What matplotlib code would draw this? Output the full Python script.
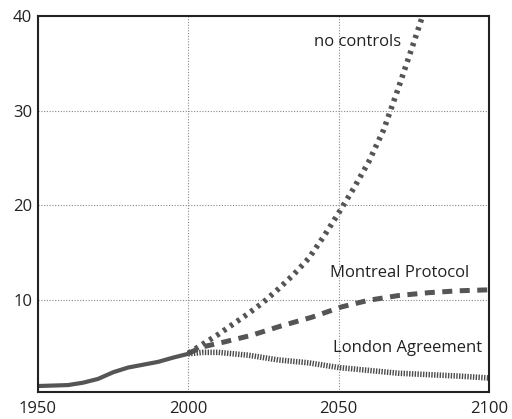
import matplotlib
matplotlib.use("Agg")
from matplotlib import pyplot as plt

# data
hist_years = [1950, 1960, 1965, 1970, 1975, 1980, 1985, 1990, 1995, 2000]
hist_vals = [0.95, 1.05, 1.3, 1.7, 2.4, 2.9, 3.2, 3.5, 3.95, 4.35]

nc_years = [2000, 2005, 2010, 2015, 2020, 2025, 2030, 2035, 2040, 2045, 2050,
            2055, 2060, 2065, 2070, 2075, 2080]
nc_vals = [4.4, 5.4, 6.4, 7.5, 8.6, 9.8, 11.2, 12.7, 14.4, 16.7, 19.2,
           21.8, 24.6, 28.0, 32.5, 37.2, 42.0]

mp_years = [2000, 2005, 2012, 2021, 2031, 2041, 2051, 2060, 2070, 2080, 2090, 2100]
mp_vals = [4.4, 5.1, 5.6, 6.3, 7.3, 8.2, 9.3, 10.0, 10.5, 10.8, 11.0, 11.1]

la_years = [2000, 2005, 2010, 2020, 2030, 2040, 2050, 2060, 2070, 2080, 2090, 2100]
la_vals = [4.35, 4.5, 4.5, 4.2, 3.7, 3.4, 2.9, 2.6, 2.3, 2.15, 2.0, 1.8]

x_ticks = [1950, 2000, 2050, 2100]
y_ticks = [10, 20, 30, 40]

plt.rcParams['font.family'] = ['Open Sans', 'DejaVu Sans']

fig = plt.figure(figsize=(5.12, 4.19), dpi=100)
ax = fig.add_axes([0.074, 0.064, 0.881, 0.898])

line_col = '#555555'
ax.plot(hist_years, hist_vals, color=line_col, lw=3, solid_capstyle='butt')
ax.plot(nc_years, nc_vals, color=line_col, lw=4, linestyle=(0, (0.6, 0.9)))
ax.plot(mp_years, mp_vals, color=line_col, lw=3.6, linestyle=(0, (2.0, 1.5)))
ax.plot(la_years, la_vals, color='#4a4a4a', lw=4, linestyle=(0, (0.25, 0.25)))

ax.text(2041.7, 37.3, 'no controls', fontsize=12, va='center', ha='left', color='#222222')
ax.text(2047.3, 12.9, 'Montreal Protocol', fontsize=12, va='center', ha='left', color='#222222')
ax.text(2048.3, 4.95, 'London Agreement', fontsize=12, va='center', ha='left', color='#222222')

ax.set_xlim(1950, 2100)
ax.set_ylim(0.3, 40)
ax.set_xticks(x_ticks)
ax.set_yticks(y_ticks)
ax.tick_params(length=0, labelsize=12, colors='#222222')
ax.tick_params(axis='x', pad=6)
ax.tick_params(axis='y', pad=4)
ax.grid(True, linestyle=(0, (1, 1.5)), color='#888888', lw=0.8)
for s in ax.spines.values():
    s.set_linewidth(1.5)
    s.set_color('#222222')

plt.savefig('out.png', dpi=100)
